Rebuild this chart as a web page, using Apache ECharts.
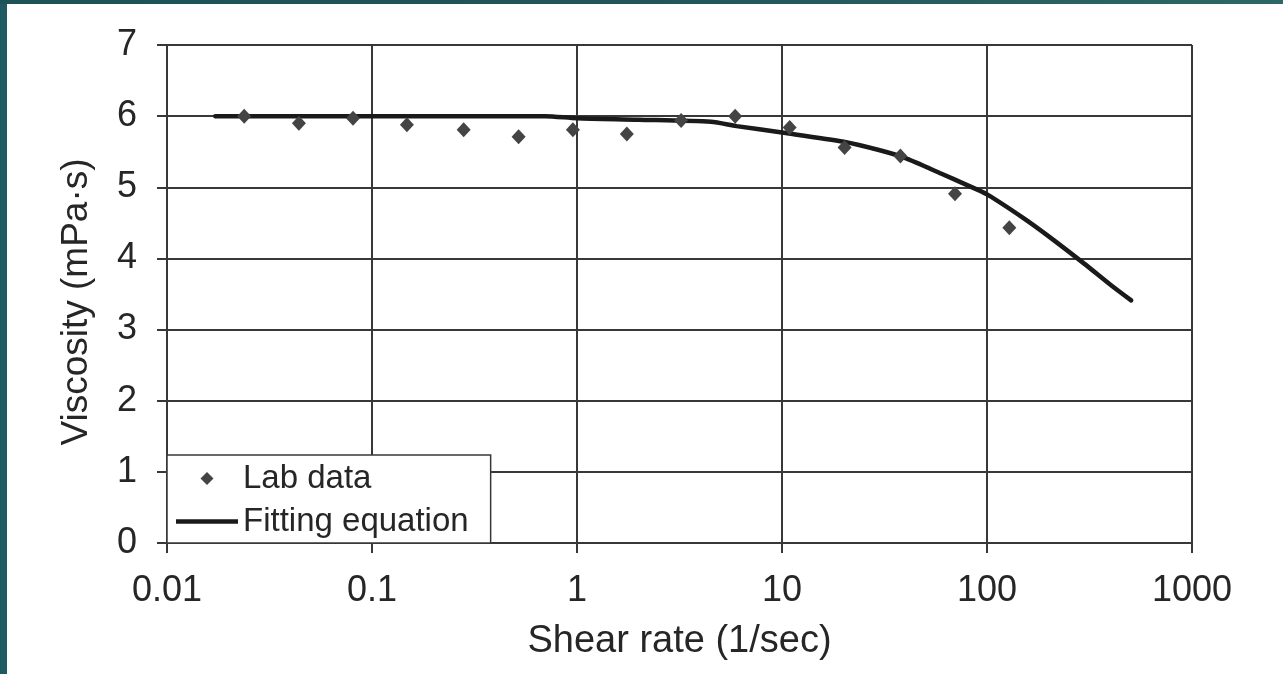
<!DOCTYPE html>
<html>
<head>
<meta charset="utf-8">
<script src="https://cdn.jsdelivr.net/npm/echarts@6/dist/echarts.min.js"></script>
<style>
html,body{margin:0;padding:0;background:#fff;}
#chart{width:1283px;height:674px;}
</style>
</head>
<body>
<div id="chart"></div>
<script>
// Lab data (shear rate 1/sec, viscosity mPa·s)
var labShear = [0.0238, 0.044, 0.0808, 0.148, 0.28, 0.519, 0.955, 1.75, 3.22, 5.91, 10.9, 20.2, 37.8, 69.8, 128.5];
var labVisc  = [6.00, 5.90, 5.97, 5.88, 5.81, 5.71, 5.81, 5.75, 5.94, 6.00, 5.84, 5.56, 5.44, 4.91, 4.43];

// Fitting equation curve
var fitShear = [0.0172, 0.1, 0.7, 1, 2, 4.5, 6, 10, 20, 30, 40, 60, 80, 100, 150, 200, 300, 400, 505];
var fitVisc  = [6.00, 6.00, 6.00, 5.97, 5.95, 5.92, 5.86, 5.77, 5.64, 5.52, 5.41, 5.19, 5.03, 4.90, 4.57, 4.31, 3.92, 3.63, 3.41];

var xTickLabels = ['0.01', '0.1', '1', '10', '100', '1000'];
var yTickLabels = ['0', '1', '2', '3', '4', '5', '6', '7'];

var labPts = labShear.map(function (x, i) { return [x, labVisc[i]]; });
var fitPts = fitShear.map(function (x, i) { return [x, fitVisc[i]]; });

var gridColor = '#383838';
var txtColor = '#262626';
var fontFam = '"Liberation Sans", Arial, Helvetica, sans-serif';

var chart = echarts.init(document.getElementById('chart'), null, {renderer: 'canvas'});
chart.setOption({
  backgroundColor: '#ffffff',
  animation: false,
  graphic: [
    {type: 'rect', shape: {x: 0, y: 0, width: 7, height: 674}, style: {fill: '#1e5a5f'}, z: 100},
    {type: 'rect', shape: {x: 0, y: 0, width: 1283, height: 4},
     style: {fill: new echarts.graphic.LinearGradient(0, 0, 1, 0, [
       {offset: 0, color: '#1d5258'}, {offset: 0.5, color: '#21555a'}, {offset: 1, color: '#2c6864'}])}, z: 100}
  ],
  grid: {left: 167, right: 91, top: 45, bottom: 131, containLabel: false},
  legend: {
    show: true,
    orient: 'vertical',
    left: 167,
    top: 455,
    backgroundColor: '#ffffff',
    borderColor: gridColor,
    borderWidth: 1.5,
    borderRadius: 0,
    padding: [7, 22, 5, 9],
    itemGap: 10,
    itemWidth: 62,
    itemHeight: 13,
    itemTextGap: 7,
    symbolKeepAspect: true,
    textStyle: {fontSize: 33, color: txtColor, fontFamily: fontFam, lineHeight: 32},
    data: [
      {name: 'Lab data', icon: 'path://M6,0L12,6L6,12L0,6Z', itemStyle: {color: '#444444'}},
      {name: 'Fitting equation', icon: 'path://M0,0H62V4.5H0Z', itemStyle: {color: '#1a1a1a'}}
    ],
    z: 10
  },
  xAxis: {
    type: 'log',
    logBase: 10,
    min: 0.01,
    max: 1000,
    name: 'Shear rate (1/sec)',
    nameLocation: 'middle',
    nameGap: 80,
    nameTextStyle: {fontSize: 38, color: txtColor, fontFamily: fontFam},
    axisLine: {show: true, onZero: false, lineStyle: {color: gridColor, width: 2}},
    axisTick: {show: true, inside: false, length: 10, lineStyle: {color: gridColor, width: 2}},
    minorTick: {show: false},
    splitLine: {show: true, lineStyle: {color: gridColor, width: 2}},
    axisLabel: {
      margin: 30,
      fontSize: 36, color: txtColor, fontFamily: fontFam,
      formatter: function (v) {
        var idx = Math.round(Math.log(v) / Math.LN10) + 2;
        return xTickLabels[idx] !== undefined ? xTickLabels[idx] : '';
      }
    }
  },
  yAxis: {
    type: 'value',
    min: 0,
    max: 7,
    interval: 1,
    name: 'Viscosity (mPa·s)',
    nameLocation: 'middle',
    nameGap: 72,
    nameTextStyle: {fontSize: 37, color: txtColor, fontFamily: fontFam, padding: [0, 16, 0, 0]},
    axisLine: {show: true, onZero: false, lineStyle: {color: gridColor, width: 2}},
    axisTick: {show: true, inside: false, length: 10, lineStyle: {color: gridColor, width: 2}},
    splitLine: {show: true, lineStyle: {color: gridColor, width: 2}},
    axisLabel: {
      margin: 30,
      fontSize: 36, color: txtColor, fontFamily: fontFam,
      formatter: function (v) { return yTickLabels[Math.round(v)]; }
    }
  },
  series: [
    {
      name: 'Fitting equation',
      type: 'line',
      data: fitPts,
      smooth: 0.25,
      showSymbol: false,
      symbol: 'none',
      lineStyle: {color: '#1a1a1a', width: 4.5, cap: 'round'},
      itemStyle: {color: '#1a1a1a'},
      z: 3
    },
    {
      name: 'Lab data',
      type: 'scatter',
      data: labPts,
      symbol: 'diamond',
      symbolSize: [14, 15],
      itemStyle: {color: '#444444', opacity: 1},
      z: 4
    }
  ]
});
</script>
</body>
</html>
